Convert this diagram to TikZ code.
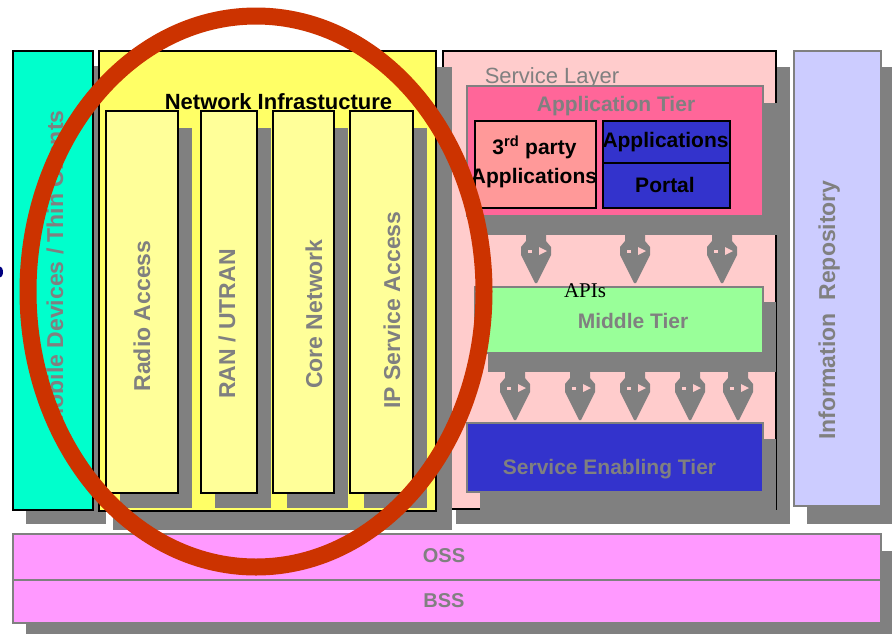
\documentclass[tikz,border=0pt]{standalone}
\usepackage{fontspec}
\setmainfont{Liberation Sans}
\newfontfamily\apifont{Liberation Serif}

\definecolor{shadowgray}{HTML}{808080}
\definecolor{mobcyan}{HTML}{00FFCC}
\definecolor{infrayellow}{HTML}{FFFF66}
\definecolor{colyellow}{HTML}{FFFF99}
\definecolor{slpink}{HTML}{FFCCCC}
\definecolor{apppink}{HTML}{FF6699}
\definecolor{thirdsalmon}{HTML}{FF9999}
\definecolor{tierblue}{HTML}{3333CC}
\definecolor{midgreen}{HTML}{99FF99}
\definecolor{replav}{HTML}{CCCCFF}
\definecolor{ossmag}{HTML}{FF99FF}
\definecolor{ringred}{HTML}{CC3300}
\definecolor{navyblot}{HTML}{000080}

\tikzset{
  blk/.style={draw=black, line width=2pt, rectangle, inner sep=0pt, anchor=north west},
  grayblk/.style={draw=shadowgray, line width=2pt, rectangle, inner sep=0pt, anchor=north west},
  vlabel/.style={text=shadowgray, font=\bfseries\fontsize{23}{23}\selectfont, rotate=90, inner sep=0pt, anchor=base},
  hlabel/.style={text=shadowgray, font=\bfseries\fontsize{21}{21}\selectfont, inner sep=0pt, anchor=base},
  dlabel/.style={text=black, font=\bfseries\fontsize{21}{21}\selectfont, inner sep=0pt, anchor=base},
  apiarrow/.pic={
    \fill[shadowgray] (-10,0) -- (10,0) -- (10,6) -- (15,12) -- (15,20) -- (1,48) -- (-1,48)
                 -- (-15,20) -- (-15,12) -- (-10,6) -- cycle;
    \fill[slpink] (-8,15) rectangle (-4,18);
    \fill[slpink] (3,12) -- (11,16) -- (3,20) -- cycle;
  }
}

\begin{document}
\begin{tikzpicture}[x=1pt,y=-1pt]
\useasboundingbox (0,0) rectangle (892,633);
\fill[white] (0,0) rectangle (892,633);

% Mobile devices column
\fill[shadowgray] (26,66) rectangle (106,524);
\node[blk, fill=mobcyan, minimum width=80, minimum height=459] (mobile) at (12,50) {};
\node[vlabel] (mobiletxt) at (63,269) {Mobile Devices / Thin Clients};

% Service layer
\fill[shadowgray] (456,67) rectangle (790,524);
\node[blk, fill=slpink, minimum width=333, minimum height=458] (service) at (442,50) {};
\node[text=shadowgray, font=\fontsize{22}{22}\selectfont, inner sep=0pt, anchor=base] (servicetxt) at (552,83) {Service Layer};

% Information repository
\fill[shadowgray] (807,67) rectangle (894,524);
\node[grayblk, fill=replav, minimum width=87, minimum height=455] (inforep) at (793,50) {};
\node[vlabel] (inforeptxt) at (835,310) {Information~~Repository};

% Application tier
\fill[shadowgray] (480,103) rectangle (777,235);
\node[grayblk, fill=apppink, minimum width=296, minimum height=130] (apptier) at (466,85) {};
\node[hlabel] (apptiertxt) at (616,111) {Application Tier};
\node[blk, fill=thirdsalmon, minimum width=121, minimum height=87] (third) at (474,120) {};
\node[dlabel] (thirdtxta) at (534.5,154) {3\textsuperscript{rd} party};
\node[dlabel] (thirdtxtb) at (534,183) {Applications};
\node[blk, fill=tierblue, minimum width=127, minimum height=42] (apps) at (602,120) {};
\node[dlabel] (appstxt) at (665.5,147) {Applications};
\node[blk, fill=tierblue, minimum width=127, minimum height=45] (portal) at (602,162) {};
\node[dlabel] (portaltxt) at (665,192) {Portal};

% Middle tier
\fill[shadowgray] (488,302) rectangle (776,372);
\node[grayblk, fill=midgreen, minimum width=288, minimum height=66] (middle) at (474,286) {};
\node[hlabel] (middletxt) at (633,328) {Middle Tier};
\node[text=black, font=\apifont\fontsize{21}{21}\selectfont, inner sep=0pt, anchor=base] (apis) at (585,297) {APIs};

% Service enabling tier
\fill[shadowgray] (480,439) rectangle (776,510);
\node[grayblk, fill=tierblue, minimum width=296, minimum height=69] (enabling) at (466,422) {};
\node[hlabel] (enablingtxt) at (609.5,474) {Service Enabling Tier};

% API arrows between the tiers
\foreach \cx in {536,635,722} { \pic at (\cx,235) {apiarrow}; }
\foreach \cx in {515,580,635,690,738} { \pic at (\cx,372) {apiarrow}; }

% Network infrastructure
\fill[shadowgray] (113,67) rectangle (452,530);
\node[blk, fill=infrayellow, minimum width=337, minimum height=460] (netinfra) at (98,50) {};
\node[text=black, font=\bfseries\fontsize{22}{22}\selectfont, inner sep=0pt, anchor=base] (netinfratxt) at (278.5,109) {Network Infrastucture};

% Infrastructure columns with their shadows
\fill[shadowgray] (120,128) rectangle (192,508);
\fill[shadowgray] (215,128) rectangle (271,508);
\fill[shadowgray] (287,128) rectangle (348,508);
\fill[shadowgray] (364,128) rectangle (427,508);
\node[blk, fill=colyellow, minimum width=72, minimum height=382] (radio) at (105,110) {};
\node[blk, fill=colyellow, minimum width=56, minimum height=382] (ran) at (200,110) {};
\node[blk, fill=colyellow, minimum width=61, minimum height=382] (core) at (272,110) {};
\node[blk, fill=colyellow, minimum width=63, minimum height=382] (ipsa) at (349,110) {};
\node[vlabel] (radiotxt) at (150,316) {Radio Access};
\node[vlabel] (rantxt) at (235,324) {RAN / UTRAN};
\node[vlabel] (coretxt) at (322,314) {Core Network};
\node[vlabel] (ipsatxt) at (400,310) {IP Service Access};

% OSS / BSS bars
\fill[shadowgray] (26,551) rectangle (894,640);
\node[grayblk, fill=ossmag, minimum width=868, minimum height=46] (oss) at (12,533) {};
\node[grayblk, fill=ossmag, minimum width=868, minimum height=43] (bss) at (12,579) {};
\node[hlabel, font=\bfseries\fontsize{20}{20}\selectfont] (osstxt) at (444,562) {OSS};
\node[hlabel, font=\bfseries\fontsize{20}{20}\selectfont] (bsstxt) at (444,607) {BSS};

% Stray mark at the left edge
\fill[navyblot] (-1,272) ellipse [x radius=4, y radius=6];

% Red ring around the network infrastructure
\draw[ringred, line width=17pt] (256,291.5) ellipse [x radius=228, y radius=275.5];
\end{tikzpicture}
\end{document}
